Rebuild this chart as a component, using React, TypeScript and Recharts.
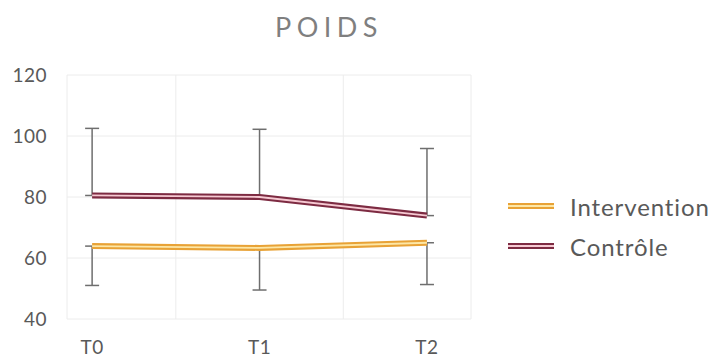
import {
  LineChart,
  Line,
  XAxis,
  YAxis,
  CartesianGrid,
  ReferenceLine,
  ErrorBar,
  Legend,
} from "recharts";

// Valeurs (poids moyen, kg)
const categories = ["T0", "T1", "T2"];
const intervention = [63.9, 63.3, 65.0];
const controle = [80.5, 80.0, 73.9];
// barres d'erreur : vers le bas pour Intervention, vers le haut pour Contrôle
const interventionErr = [12.9, 13.8, 13.7];
const controleErr = [22.0, 22.2, 22.0];
const yTicks = [40, 60, 80, 100, 120];
// séparateurs verticaux entre catégories (bords de la zone + milieux)
const dividers = [-0.15, 0.5, 1.5, 2.263];

const FONT = "Lato, 'Open Sans', sans-serif";

const SERIES = [
  { key: "intervention", label: "Intervention", outer: "#e8a236", inner: "#fde7a6" },
  { key: "controle", label: "Contrôle", outer: "#7d2b42", inner: "#f6c9d2" },
];

const data = categories.map((c, i) => ({
  x: i,
  label: c,
  intervention: intervention[i],
  controle: controle[i],
  errI: [interventionErr[i], 0],
  errC: [0, controleErr[i]],
}));

function DoubleSwatch({ outer, inner }: { outer: string; inner: string }) {
  return (
    <svg width={46} height={8} style={{ display: "block" }}>
      <line x1={0} y1={4} x2={46} y2={4} stroke={outer} strokeWidth={6} />
      <line x1={0} y1={4} x2={46} y2={4} stroke={inner} strokeWidth={2} />
    </svg>
  );
}

function LegendBox() {
  return (
    <div style={{ fontFamily: FONT, color: "#595959", fontSize: 24, letterSpacing: 0.9 }}>
      {SERIES.map((s) => (
        <div key={s.key} style={{ display: "flex", alignItems: "center", height: 40 }}>
          <DoubleSwatch outer={s.outer} inner={s.inner} />
          <span style={{ marginLeft: 16 }}>{s.label}</span>
        </div>
      ))}
    </div>
  );
}

export default function App() {
  const tick = { fontSize: 19, fill: "#595959", fontFamily: FONT, letterSpacing: 0.5 };
  return (
    <div style={{ position: "absolute", left: 0, top: 0, width: 720, height: 358, background: "#fff" }}>
      <div
        style={{
          position: "absolute",
          left: 0,
          top: 10,
          width: 658,
          textAlign: "center",
          fontFamily: FONT,
          fontSize: 27,
          letterSpacing: 5.5,
          color: "#7f7f7f",
        }}
      >
        POIDS
      </div>
      <LineChart
        width={720}
        height={358}
        data={data}
        margin={{ top: 75, right: 249, left: 7, bottom: 9 }}
      >
        <CartesianGrid vertical={false} stroke="#ececec" />
        {dividers.map((d) => (
          <ReferenceLine key={d} x={d} stroke="#ececec" />
        ))}
        <XAxis
          dataKey="x"
          type="number"
          domain={[dividers[0], dividers[dividers.length - 1]]}
          ticks={[0, 1, 2]}
          tickFormatter={(v) => categories[v]}
          axisLine={false}
          tickLine={false}
          tickSize={0}
          tickMargin={22}
          height={30}
          tick={tick}
          allowDataOverflow
        />
        <YAxis
          domain={[40, 120]}
          ticks={yTicks}
          axisLine={false}
          tickLine={false}
          tickSize={0}
          tickMargin={20}
          width={60}
          tick={tick}
        />
        <Legend
          layout="vertical"
          align="center"
          verticalAlign="middle"
          content={() => <LegendBox />}
          wrapperStyle={{ position: "absolute", left: 508, top: 186, width: 212 }}
        />
        {/* contour foncé des lignes doubles, avec barres d'erreur */}
        <Line
          dataKey="intervention"
          stroke={SERIES[0].outer}
          strokeWidth={6}
          dot={false}
          isAnimationActive={false}
          legendType="none"
        >
          <ErrorBar dataKey="errI" width={7} stroke="#6e6e6e" strokeWidth={1.5} direction="y" />
        </Line>
        <Line
          dataKey="controle"
          stroke={SERIES[1].outer}
          strokeWidth={6}
          dot={false}
          isAnimationActive={false}
          legendType="none"
        >
          <ErrorBar dataKey="errC" width={7} stroke="#6e6e6e" strokeWidth={1.5} direction="y" />
        </Line>
        {/* filet clair au centre */}
        <Line
          dataKey="intervention"
          stroke={SERIES[0].inner}
          strokeWidth={1.8}
          dot={false}
          isAnimationActive={false}
          legendType="none"
        />
        <Line
          dataKey="controle"
          stroke={SERIES[1].inner}
          strokeWidth={1.8}
          dot={false}
          isAnimationActive={false}
          legendType="none"
        />
      </LineChart>
    </div>
  );
}
